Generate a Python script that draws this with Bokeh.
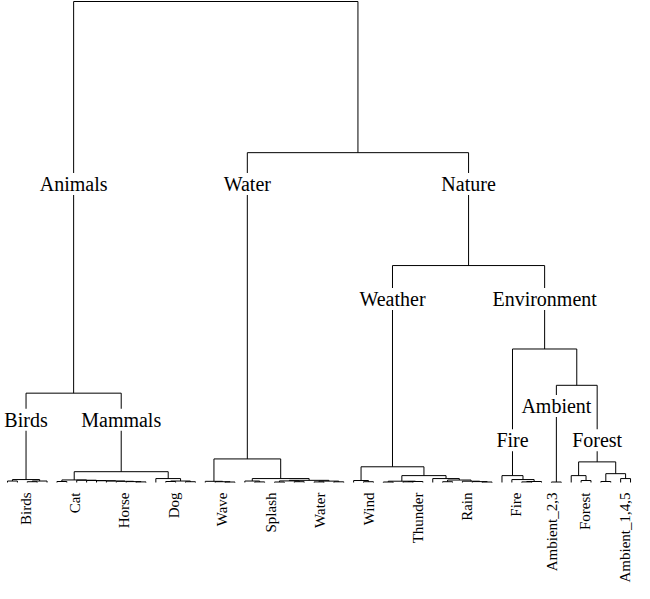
import math
from bokeh.plotting import figure
from bokeh.models import Range1d, ColumnDataSource, LabelSet
from bokeh.core.properties import value
from bokeh.embed import file_html
from bokeh.resources import INLINE

# ---- data -------------------------------------------------------------
n_leaves = 64

merge_name = ["b1", "b2", "b3", "Birds", "m1", "c1", "c2", "c3", "c4", "c5", "c6", "c7",
              "CatHorse", "d1", "d2", "d3", "Dog", "Mammals", "Animals",
              "w1", "w2", "Wave", "s1", "sA", "s2", "s3", "s4", "s5", "s6", "s7", "sB",
              "Splash", "WaterC", "n1", "Wind", "t1", "t2", "t3", "tA", "u1", "u2", "u3",
              "u4", "uY", "tB", "Thunder", "Weather", "f1", "f2", "f3", "Fire", "Amb23",
              "g1", "gL", "g2", "g3", "gR", "Forest", "Ambient", "Environment", "Nature",
              "WaterNature", "Root"]
merge_left = [0, 2, "b2", "b1", 5, 13, 12, 11, 10, 9, 8, 7,
              "m1", 16, 18, "d1", 15, "CatHorse", "Birds",
              22, 21, 20, 25, 24, 27, 29, "s2", 31, 33, "s5", "s4",
              "sA", "Wave", 36, 35, 38, 40, "t2", "t1", 48, 47, 46,
              44, "u4", 43, "tA", "Wind", 52, "f1", 51, 50, 55,
              58, 57, 60, 62, "g2", "gL", "Amb23", "Fire", "Weather",
              "WaterC", "Animals"]
merge_right = [1, 3, 4, "b3", 6, 14, "c1", "c2", "c3", "c4", "c5", "c6",
               "c7", 17, 19, "d2", "d3", "Dog", "Mammals",
               23, "w1", "w2", 26, "s1", 28, 30, "s3", 32, 34, "s6", "s7",
               "sB", "Splash", 37, "n1", 39, 41, 42, "t3", 49, "u1", "u2",
               45, "u3", "uY", "tB", "Thunder", 53, 54, "f2", "f3", 56,
               59, "g1", 61, 63, "g3", "gR", "Forest", "Ambient", "Environment",
               "Nature", "WaterNature"]
merge_height = [1.5, 0.8, 1.5, 3, 1.0, 0.6, 0.9, 1.2, 1.5, 1.8, 2.0, 2.3,
                2.6, 1.0, 0.8, 1.5, 4, 11, 91,
                0.5, 0.8, 1.2, 0.6, 1.5, 0.5, 0.8, 1.6, 0.6, 0.7, 1.4, 2.2,
                4, 24, 0.8, 2, 0.5, 0.7, 1.0, 1.3, 0.5, 0.9, 1.3,
                0.8, 2.5, 4, 7, 16, 0.6, 1.0, 3, 7, 0.5,
                2, 7, 1, 4, 9, 21, 99, 136, 221,
                336, 490]

node_label_text = ["Animals", "Water", "Nature", "Birds", "Mammals",
                   "Weather", "Environment", "Ambient", "Fire", "Forest"]
node_label_node = ["Animals", "WaterC", "Nature", "Birds", "Mammals",
                   "Weather", "Environment", "Amb23", "Fire", "Forest"]
node_label_height = [304, 304, 304, 64, 64, 187, 187, 78, 43, 43]

leaf_labels = ["Birds", "Cat", "Horse", "Dog", "Wave", "Splash", "Water", "Wind",
               "Thunder", "Rain", "Fire", "Ambient_2,3", "Forest", "Ambient_1,4,5"]
leaf_label_pos = [1.85, 6.8, 11.75, 16.8, 21.7, 26.6, 31.6, 36.6,
                  41.5, 46.5, 51.4, 55.1, 58.4, 62.4]

# ---- layout of the tree ---------------------------------------------
pos = {i: float(i) for i in range(n_leaves)}
hgt = {i: 0.0 for i in range(n_leaves)}
xs, ys = [], []
for name, a, b, h in zip(merge_name, merge_left, merge_right, merge_height):
    pos[name] = (pos[a] + pos[b]) / 2.0
    hgt[name] = h
    xs.append([pos[a], pos[a], pos[b], pos[b]])
    ys.append([hgt[a], h, h, hgt[b]])

p = figure(width=634, height=583, output_backend="svg", toolbar_location=None,
           x_axis_type=None, y_axis_type=None, min_border=0,
           x_range=Range1d(-0.708, 63.4), y_range=Range1d(-102.9, 491.02))
p.grid.visible = False
p.outline_line_color = None
p.background_fill_color = "white"

p.multi_line(xs=xs, ys=ys, line_color="black", line_width=1)

lab_src = ColumnDataSource(dict(
    x=[pos[n] for n in node_label_node],
    y=node_label_height,
    text=node_label_text,
))
# white boxes that break the branch lines behind the cluster names
boxes = LabelSet(x="x", y="y", text="text", source=lab_src,
                 text_align="center", text_baseline="middle",
                 text_font=value("Liberation Sans"), text_font_size="20px",
                 text_alpha=0.0, background_fill_color="white",
                 background_fill_alpha=1.0)
p.add_layout(boxes)
p.text(x="x", y="y", text="text", source=lab_src,
       text_align="center", text_baseline="middle",
       text_font=value("Times New Roman"), text_font_size="20px",
       text_color="black", level="overlay")

leaf_src = ColumnDataSource(dict(
    x=leaf_label_pos,
    y=[-10.2] * len(leaf_labels),
    text=leaf_labels,
))
p.text(x="x", y="y", text="text", source=leaf_src, angle=math.pi / 2,
       text_align="right", text_baseline="middle",
       text_font=value("Liberation Serif"), text_font_size="15px",
       text_color="black")

open("out.html", "w").write(file_html(p, INLINE))
